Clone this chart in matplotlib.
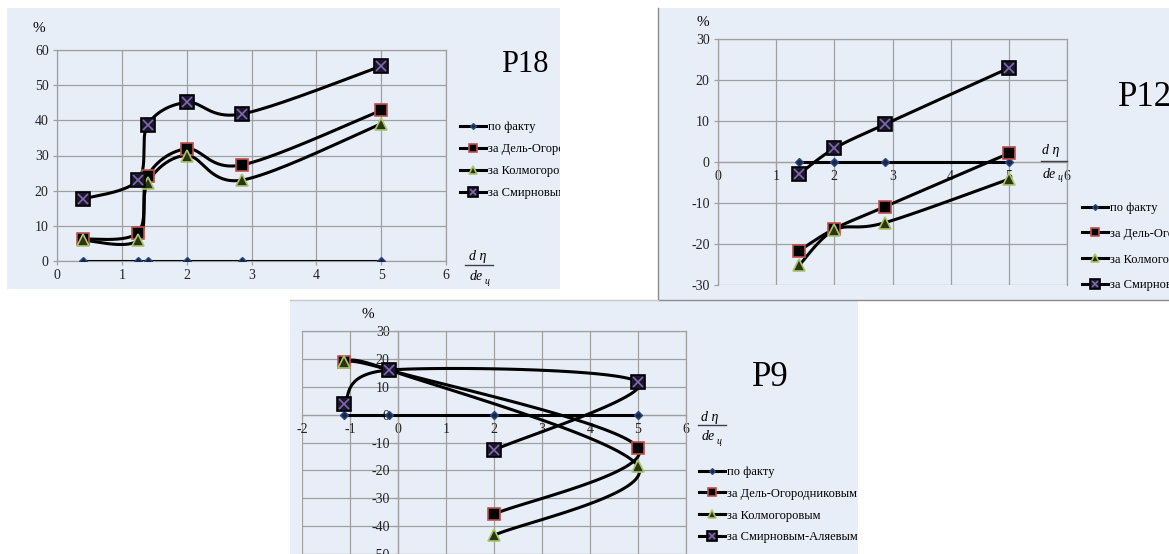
import numpy as np
import matplotlib
matplotlib.use("Agg")
import matplotlib.pyplot as plt
from matplotlib.lines import Line2D
from matplotlib.patches import Rectangle
from matplotlib.transforms import Bbox, TransformedBbox

plt.rcParams['font.family'] = ['Liberation Serif', 'DejaVu Serif']
plt.rcParams['axes.unicode_minus'] = False

W, H = 1169, 554

labels = ['по факту', 'за Дель-Огородниковым', 'за Колмогоровым', 'за Смирновым-Аляевым']

# P18
p18_x = [0.4, 1.25, 1.4, 2.0, 2.85, 5.0]
p18_fact = [0, 0, 0, 0, 0, 0]
p18_del = [6.2, 8.1, 24.3, 31.9, 27.3, 42.8]
p18_kolm = [5.9, 5.9, 22.3, 30.0, 23.0, 39.0]
p18_smir = [17.6, 23.0, 38.8, 45.1, 41.8, 55.4]

# P12
p12_x = [1.4, 2.0, 2.87, 5.0]
p12_fact = [0, 0, 0, 0]
p12_del = [-21.6, -16.3, -10.9, 2.1]
p12_kolm = [-25.1, -16.6, -14.8, -4.2]
p12_smir = [-2.9, 3.3, 9.2, 22.9]

# P9 (points kept in measurement order, not sorted by x)
p9_fact_x = [-1.13, -0.18, 2.0, 5.0]
p9_fact = [0, 0, 0, 0]
p9_x = [-1.13, -0.18, 5.0, 2.0]
p9_del = [18.8, 16.0, -11.8, -35.7]
p9_kolm = [18.8, 16.0, -18.5, -43.3]
p9_smir = [3.8, 16.0, 11.7, -12.7]

BG = '#e8eef8'
GRID = '#a0a0a0'


def smooth(xs, ys, n=40):
    # bezier spline through the points, control points from neighbours (1/6)
    p = np.column_stack([xs, ys]).astype(float)
    out = [p[:1]]
    t = np.linspace(0, 1, n)[1:, None]
    for i in range(len(p) - 1):
        p0 = p[max(i - 1, 0)]
        p1, p2 = p[i], p[i + 1]
        p3 = p[min(i + 2, len(p) - 1)]
        c1 = p1 + (p2 - p0) / 6
        c2 = p2 - (p3 - p1) / 6
        seg = (1 - t) ** 3 * p1 + 3 * (1 - t) ** 2 * t * c1 + 3 * (1 - t) * t ** 2 * c2 + t ** 3 * p2
        out.append(seg)
    return np.vstack(out)


def fx(x):
    return x / W


def fy(y):
    return 1 - y / H


def panel(x0, y0, x1, y1):
    fig.add_artist(Rectangle((fx(x0), fy(y1)), fx(x1) - fx(x0), fy(y0) - fy(y1),
                             transform=fig.transFigure, facecolor=BG, edgecolor='none', zorder=-5))


def make_axes(x0, y0, x1, y1, xlim, ylim, xticks, yticks):
    ax = fig.add_axes([fx(x0), fy(y1), fx(x1) - fx(x0), fy(y0) - fy(y1)])
    ax.set_facecolor('none')
    ax.set_xlim(xlim)
    ax.set_ylim(ylim)
    ax.set_xticks(xticks)
    ax.set_yticks(yticks)
    ax.grid(True, color=GRID, lw=0.9)
    for s in ax.spines.values():
        s.set_color(GRID)
        s.set_linewidth(0.9)
    ax.tick_params(length=3, width=0.9, color=GRID, labelsize=10, pad=3, labelcolor='#222222')
    return ax


def draw_series(ax, x, fact, dl, km, sm, fact_x=None):
    fx_ = x if fact_x is None else fact_x
    lw = 2.2
    f = smooth(fx_, fact)
    ax.plot(f[:, 0], f[:, 1], color='black', lw=lw, zorder=3)
    h1, = ax.plot(fx_, fact, ls='none', marker='D', ms=4.5, mfc='#17264a', mec='#2a4a7f', zorder=4)
    d = smooth(x, dl)
    ax.plot(d[:, 0], d[:, 1], color='black', lw=lw, zorder=3)
    h2, = ax.plot(x, dl, ls='none', marker='s', ms=8, mfc='black', mec='#c0504d', mew=1.2, zorder=4)
    k = smooth(x, km)
    ax.plot(k[:, 0], k[:, 1], color='black', lw=lw, zorder=3)
    h3, = ax.plot(x, km, ls='none', marker='^', ms=8.5, mfc='#2a3514', mec='#a9c46c', mew=1.2, zorder=5)
    s = smooth(x, sm)
    ax.plot(s[:, 0], s[:, 1], color='black', lw=lw, zorder=3)
    h4, = ax.plot(x, sm, ls='none', marker='s', ms=10.5, mfc='#1b1530', mec='black', mew=1.2, zorder=6)
    ax.plot(x, sm, ls='none', marker='x', ms=7.5, mec='#7e6ca6', mew=1.2, zorder=7)

    def leg_line(h):
        return Line2D([], [], color='black', lw=lw, marker=h.get_marker(), ms=h.get_markersize(),
                      mfc=h.get_markerfacecolor(), mec=h.get_markeredgecolor(), mew=h.get_markeredgewidth())

    handles = [leg_line(h1), leg_line(h2), leg_line(h3),
               (leg_line(h4), Line2D([], [], ls='none', marker='x', ms=7.5, mec='#7e6ca6', mew=1.2))]
    return handles


def legend(ax, handles, x, y, spacing, clip=None):
    leg = ax.legend(handles, labels, loc='upper left', bbox_to_anchor=(fx(x), fy(y)),
                    bbox_transform=fig.transFigure, frameon=False, borderpad=0, borderaxespad=0,
                    handlelength=2.1, handletextpad=0.15, labelspacing=spacing, fontsize=9,
                    markerscale=0.65)
    if clip is not None:
        box = TransformedBbox(Bbox.from_extents(fx(clip[0]), 0, fx(clip[1]), 1), fig.transFigure)
        for t in leg.get_texts():
            t.set_clip_box(box)
            t.set_clip_on(True)
    return leg


def frac(xc, y_top, y_bar, y_bot, x0, x1):
    fig.text(fx(xc), fy(y_top), 'd η', ha='center', va='center', style='italic', fontsize=10)
    fig.add_artist(Line2D([fx(x0), fx(x1)], [fy(y_bar)] * 2, transform=fig.transFigure,
                          color='#404040', lw=1.0))
    fig.text(fx(xc - 2), fy(y_bot), 'de', ha='center', va='center', style='italic', fontsize=10)
    fig.text(fx(xc + 9), fy(y_bot + 4), 'ц', ha='center', va='center', style='italic', fontsize=7)


fig = plt.figure(figsize=(W / 100, H / 100), dpi=100)

# --- P18 ---
panel(7, 8, 560, 289)
ax1 = make_axes(57, 50, 446, 261, (0, 6), (0, 60), range(0, 7), range(0, 61, 10))
hs = draw_series(ax1, p18_x, p18_fact, p18_del, p18_kolm, p18_smir)
legend(ax1, hs, 460, 121, 0.8, clip=(7, 560))
fig.text(fx(39), fy(29), '%', ha='center', va='center', fontsize=11)
fig.text(fx(525), fy(65), 'P18', ha='center', va='center', fontsize=22)
frac(478, 257, 265, 277, 465, 493)

# --- P12 ---
panel(658, 8, 1169, 300)
fig.add_artist(Line2D([fx(658), fx(658), fx(1169)], [fy(8), fy(300), fy(300)],
                      transform=fig.transFigure, color='#8c8c8c', lw=1.0))
ax2 = make_axes(718, 39, 1067, 285, (0, 6), (-30, 30), range(0, 7), range(-30, 31, 10))
ax2.spines['bottom'].set_position(('data', 0))
hs = draw_series(ax2, p12_x, p12_fact, p12_del, p12_kolm, p12_smir)
legend(ax2, hs, 1082, 202, 1.1)
fig.text(fx(703), fy(23), '%', ha='center', va='center', fontsize=11)
fig.text(fx(1145), fy(97), 'P12', ha='center', va='center', fontsize=25)
frac(1051, 150, 161, 174, 1041, 1067)

# --- P9 ---
panel(290, 301, 858, 554)
fig.add_artist(Line2D([fx(290), fx(658)], [fy(300)] * 2, transform=fig.transFigure,
                      color='#c8c8c8', lw=1.0))
ax3 = make_axes(302, 331, 686, 554, (-2, 6), (-50, 30), range(-2, 7), range(-50, 31, 10))
ax3.spines['bottom'].set_position(('data', 0))
ax3.spines['left'].set_position(('data', 0))
hs = draw_series(ax3, p9_x, p9_fact, p9_del, p9_kolm, p9_smir, fact_x=p9_fact_x)
legend(ax3, hs, 699, 466, 0.78)
fig.text(fx(368), fy(315), '%', ha='center', va='center', fontsize=11)
fig.text(fx(770), fy(378), 'P9', ha='center', va='center', fontsize=25)
frac(710, 417, 425, 437, 698, 726)

fig.savefig('out.png', dpi=100, facecolor='white')
